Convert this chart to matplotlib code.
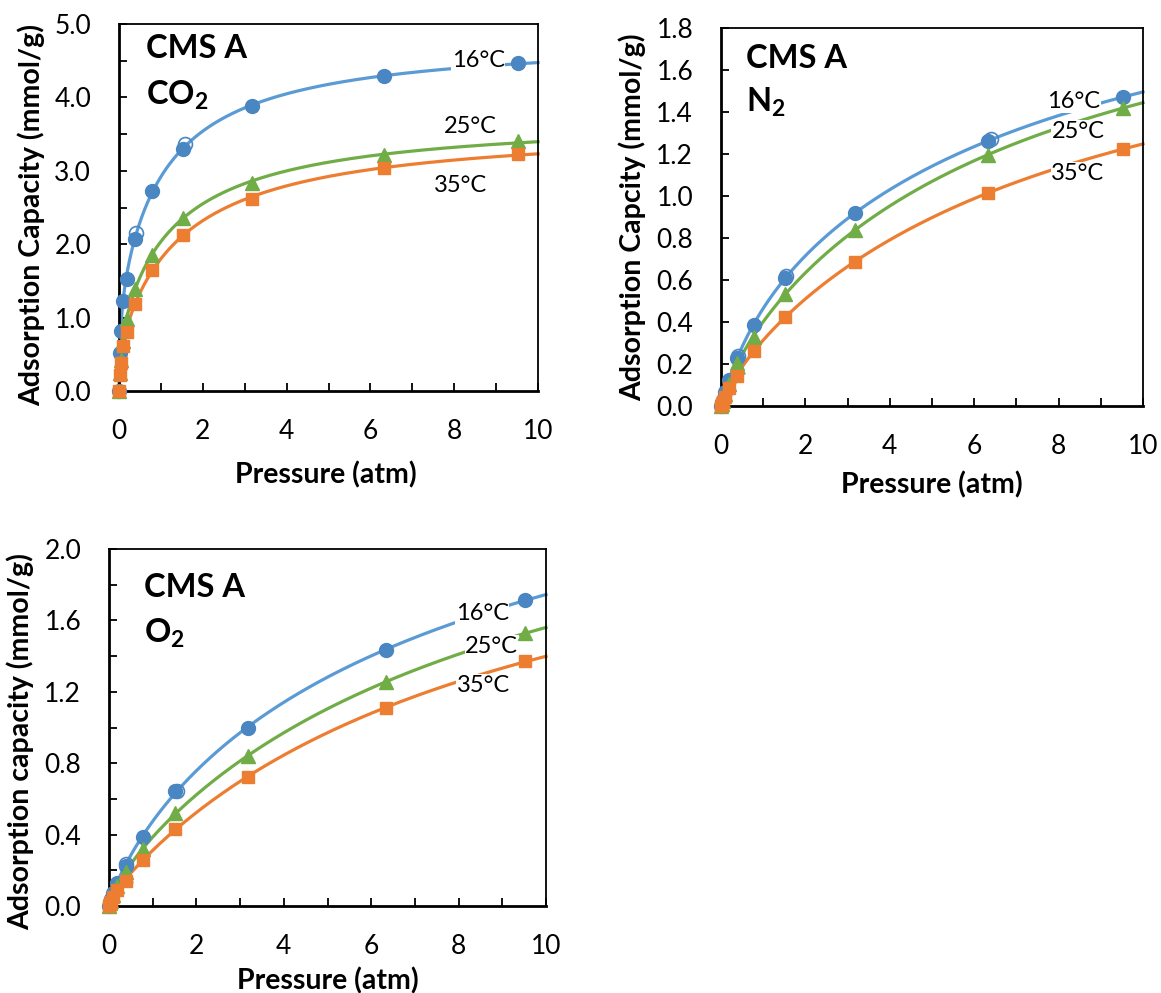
import numpy as np
import matplotlib
matplotlib.use("Agg")
import matplotlib.pyplot as plt
from matplotlib.ticker import MultipleLocator, FormatStrFormatter

plt.rcParams['font.family'] = ['Lato', 'DejaVu Sans']
plt.rcParams['mathtext.fontset'] = 'custom'
plt.rcParams['mathtext.rm'] = 'Lato'
plt.rcParams['mathtext.bf'] = 'Lato:bold'

# ---------------- data ----------------
pressure = np.array([0, 0.02, 0.04, 0.09, 0.18, 0.38, 0.78, 1.52, 3.17, 6.33, 9.53])
temps = ['16°C', '25°C', '35°C']

co2_16 = [0, 0.52, 0.82, 1.23, 1.52, 2.07, 2.73, 3.30, 3.88, 4.29, 4.47]
co2_25 = [0, 0.25, 0.42, 0.68, 0.98, 1.39, 1.85, 2.36, 2.84, 3.22, 3.40]
co2_35 = [0, 0.22, 0.38, 0.61, 0.80, 1.18, 1.65, 2.12, 2.62, 3.04, 3.23]

n2_16 = [0, 0.015, 0.03, 0.065, 0.124, 0.228, 0.386, 0.61, 0.92, 1.26, 1.473]
n2_25 = [0, 0.012, 0.025, 0.055, 0.105, 0.205, 0.33, 0.535, 0.838, 1.195, 1.42]
n2_35 = [0, 0.010, 0.020, 0.044, 0.086, 0.143, 0.263, 0.425, 0.687, 1.013, 1.225]

o2_16 = [0, 0.02, 0.04, 0.075, 0.13, 0.225, 0.389, 0.644, 0.998, 1.436, 1.715]
o2_25 = [0, 0.015, 0.03, 0.06, 0.11, 0.19, 0.318, 0.523, 0.84, 1.255, 1.529]
o2_35 = [0, 0.012, 0.025, 0.05, 0.09, 0.141, 0.259, 0.434, 0.724, 1.11, 1.37]

# desorption (open markers)
co2_des_p = [0.40, 1.58]
co2_des_16 = [2.15, 3.36]
n2_des_p16 = [0.40, 1.55, 6.40]
n2_des_16 = [0.24, 0.62, 1.27]
n2_des_p = [0.40]
n2_des_25 = [0.185]
o2_des_p16 = [0.40, 1.55]
o2_des_16 = [0.235, 0.645]
o2_des_p = [0.40]
o2_des_25 = [0.17]

line_colors = ['#5B9BD5', '#70AD47', '#ED7D31']
marker_colors = ['#4A86C2', '#70AD47', '#ED7D31']
markers = ['o', '^', 's']
marker_sizes = [10, 9.5, 9]


def dsl(P, q1, b1, q2, b2):
    return q1 * b1 * P / (1 + b1 * P) + q2 * b2 * P / (1 + b2 * P)


def sips(P, qm, b, n):
    x = (b * P) ** n
    return qm * x / (1 + x)


def fit_isotherm(P, q):
    """Least-squares isotherm fit: best of Sips and dual-site Langmuir."""
    P = np.asarray(P, float)
    q = np.asarray(q, float)
    best = (np.inf, None, None)
    for n in np.linspace(0.4, 1.4, 101):
        for lb in np.linspace(-3, 2, 201):
            b = 10 ** lb
            f = sips(P, 1.0, b, n)
            qm = f @ q / (f @ f)
            err = np.sum((qm * f - q) ** 2)
            if err < best[0]:
                best = (err, sips, (qm, b, n))
    bs = np.logspace(-2.5, 2.5, 101)
    for i, b1 in enumerate(bs):
        f1 = b1 * P / (1 + b1 * P)
        for b2 in bs[i + 1:]:
            f2 = b2 * P / (1 + b2 * P)
            A = np.column_stack([f1, f2])
            coef, *_ = np.linalg.lstsq(A, q, rcond=None)
            if np.any(coef < 0):
                continue
            err = np.sum((A @ coef - q) ** 2)
            if err < best[0]:
                best = (err, dsl, (coef[0], b1, coef[1], b2))
    return best[1], best[2]


fig = plt.figure(figsize=(11.61, 9.93), dpi=100)

panels = [
    dict(rect=[0.1025, 0.6062, 0.3609, 0.3696], series=[co2_16, co2_25, co2_35],
         ymax=5.0, ymaj=1.0, ymin=0.5, yfmt='%.1f',
         ylabel='Adsorption Capacity (mmol/g)', gas=r'$\mathbf{CO_2}$',
         ylab_xy=(-0.177, 0.48), xlab_xy=(0.494, -0.192),
         cms_xy=(0.064, 0.907), gas_xy=(0.064, 0.779),
         t_xy=[(0.857, 0.883), (0.838, 0.703), (0.814, 0.542)],
         des=[(co2_des_p, co2_des_16, 0)]),
    dict(rect=[0.6210, 0.5911, 0.3635, 0.3807], series=[n2_16, n2_25, n2_35],
         ymax=1.8, ymaj=0.2, ymin=None, yfmt='%.1f',
         ylabel='Adsorption Capcity (mmol/g)', gas=r'$\mathbf{N_2}$',
         ylab_xy=(-0.178, 0.50), xlab_xy=(0.50, -0.172),
         cms_xy=(0.059, 0.894), gas_xy=(0.059, 0.778),
         t_xy=[(0.836, 0.788), (0.846, 0.709), (0.846, 0.598)],
         des=[(n2_des_p16, n2_des_16, 0), (n2_des_p, n2_des_25, 1)]),
    dict(rect=[0.0939, 0.0876, 0.3764, 0.3595], series=[o2_16, o2_25, o2_35],
         ymax=2.0, ymaj=0.4, ymin=0.2, yfmt='%.1f',
         ylabel='Adsorption capacity (mmol/g)', gas=r'$\mathbf{O_2}$',
         ylab_xy=(-0.172, 0.46), xlab_xy=(0.50, -0.172),
         cms_xy=(0.080, 0.866), gas_xy=(0.080, 0.737),
         t_xy=[(0.854, 0.801), (0.876, 0.709), (0.856, 0.599)],
         des=[(o2_des_p16, o2_des_16, 0), (o2_des_p, o2_des_25, 1)]),
]

pfine = np.linspace(0, 10, 400)

for pan in panels:
    ax = fig.add_axes(pan['rect'])
    ax.set_xlim(0, 10)
    ax.set_ylim(0, pan['ymax'])
    for i, q in enumerate(pan['series']):
        model, params = fit_isotherm(pressure, q)
        ax.plot(pfine, model(pfine, *params), color=line_colors[i], lw=2.3,
                zorder=2, clip_on=False)
    for i, q in enumerate(pan['series']):
        ax.plot(pressure, q, linestyle='none', marker=markers[i],
                color=marker_colors[i], markersize=marker_sizes[i],
                zorder=4 + i, clip_on=False)
    for (pp, qq, i) in pan['des']:
        ax.plot(pp, qq, linestyle='none', marker=markers[i],
                markersize=marker_sizes[i],
                markerfacecolor='none', markeredgecolor=marker_colors[i],
                markeredgewidth=1.2, zorder=3, clip_on=False)

    ax.xaxis.set_major_locator(MultipleLocator(2))
    ax.xaxis.set_minor_locator(MultipleLocator(1))
    ax.yaxis.set_major_locator(MultipleLocator(pan['ymaj']))
    if pan['ymin']:
        ax.yaxis.set_minor_locator(MultipleLocator(pan['ymin']))
    ax.yaxis.set_major_formatter(FormatStrFormatter(pan['yfmt']))
    ax.xaxis.set_major_formatter(FormatStrFormatter('%d'))

    ax.tick_params(which='both', direction='in', length=6, width=1.3,
                   color='black', labelsize=19)
    ax.tick_params(axis='x', which='major', pad=20)
    ax.tick_params(axis='y', which='major', pad=20)
    ax.tick_params(which='both', top=False, right=False)

    for s in ['left', 'bottom']:
        ax.spines[s].set_linewidth(2.0)
        ax.spines[s].set_color('black')
    for s in ['top', 'right']:
        ax.spines[s].set_linewidth(1.3)
        ax.spines[s].set_color('black')

    ax.set_ylabel(pan['ylabel'], fontsize=20.5, fontweight='bold')
    ax.yaxis.set_label_coords(*pan['ylab_xy'])
    ax.set_xlabel('Pressure (atm)', fontsize=20.5, fontweight='bold')
    ax.xaxis.set_label_coords(*pan['xlab_xy'])

    ax.text(*pan['cms_xy'], 'CMS A', transform=ax.transAxes, fontsize=23.5,
            fontweight='bold', ha='left', va='baseline', zorder=10)
    ax.text(*pan['gas_xy'], pan['gas'], transform=ax.transAxes, fontsize=23.5,
            ha='left', va='baseline', zorder=10)
    for t, (tx, ty) in zip(temps, pan['t_xy']):
        ax.text(tx, ty, t, transform=ax.transAxes, fontsize=17,
                ha='center', va='baseline', zorder=3.5,
                bbox=dict(facecolor='white', edgecolor='none', pad=0.5))

fig.savefig('out.png', dpi=100)
